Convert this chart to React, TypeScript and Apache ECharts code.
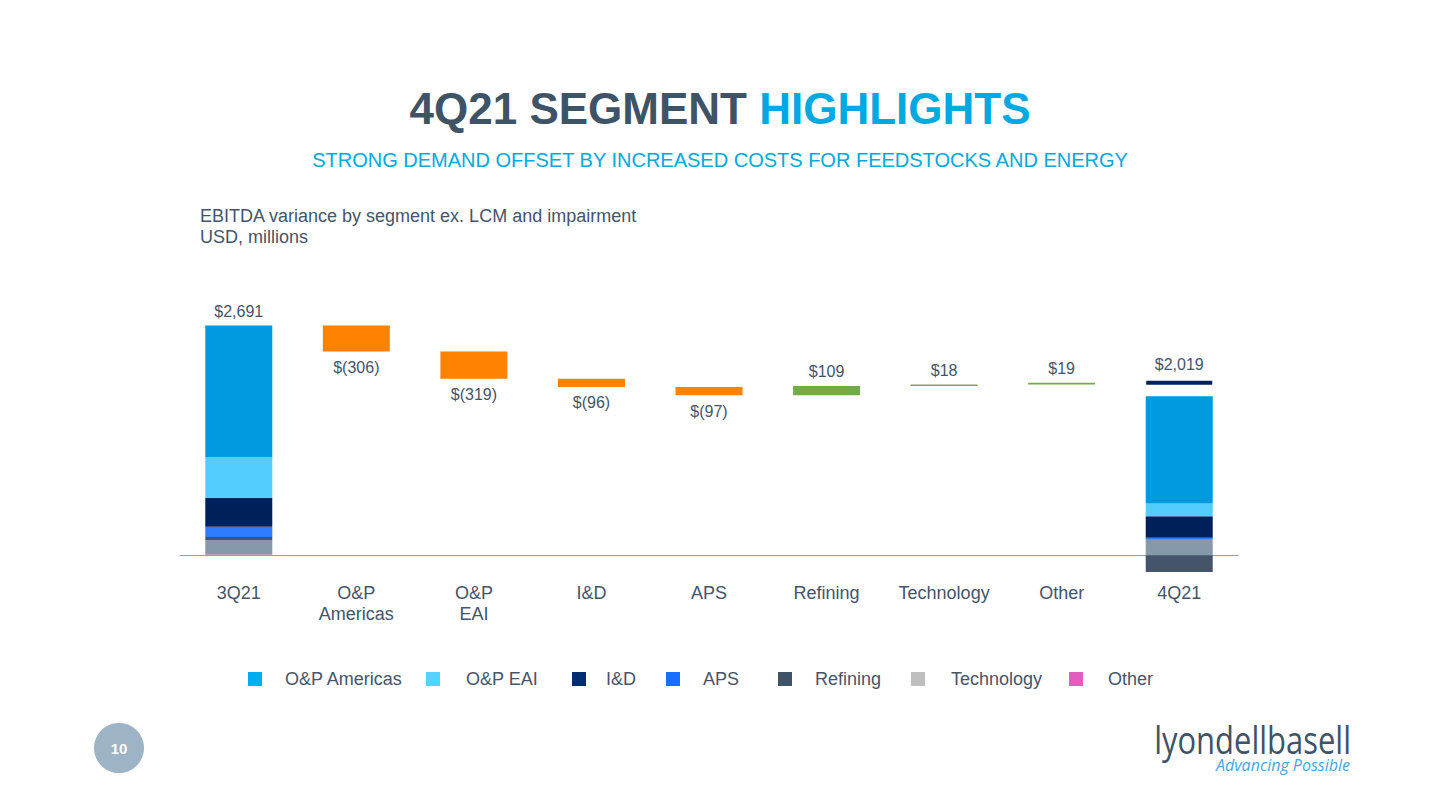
import React, { useEffect, useRef } from "react";
import * as echarts from "echarts";

const categories = ["3Q21", "O&P\nAmericas", "O&P\nEAI", "I&D", "APS", "Refining", "Technology", "Other", "4Q21"];
const segmentNames = ["O&P Americas", "O&P EAI", "I&D", "APS", "Refining", "Technology", "Other"];
const q3Segments = [1543, 475, 340, 120, 35, 170, 8];
const q4Segments = [1255, 150, 250, 23, -195, 183, 0];
const startTotal = 2691;
const endTotal = 2019;
const deltas = [-306, -319, -96, -97, 109, 18, 19];

const barColors = ["#009ADE", "#55CCFF", "#00205B", "#2E7BFF", "#44546A", "#8599AA", "#E15DBE"];
const legendColors = ["#00AEEF", "#55D3FF", "#002D72", "#1A6EFF", "#3E5366", "#BFBFBF", "#E15DBE"];
const legendLeft = [248, 426, 572, 666, 778, 911, 1069];
const legendGap = [23, 26, 20, 23, 23, 26, 25];

const FONT = "'Liberation Sans', Arial, sans-serif";
const TXT = "#44546A";

function fmt(v: number) {
  const s = "$" + Math.abs(v).toLocaleString("en-US");
  return v < 0 ? "$(" + Math.abs(v).toLocaleString("en-US") + ")" : s;
}

export default function App() {
  const ref = useRef<HTMLDivElement>(null);
  useEffect(() => {
    if (!ref.current) return;
    const chart = echarts.init(ref.current, null, { renderer: "svg" });

    const base: any[] = ["-"];
    const delta: any[] = ["-"];
    let run = startTotal;
    deltas.forEach((d) => {
      const next = run + d;
      base.push(Math.min(run, next));
      delta.push({
        value: Math.abs(d),
        itemStyle: { color: d < 0 ? "#FF8200" : "#70AD47" },
        label: { position: d < 0 ? "bottom" : "top", distance: d < 0 ? 8 : 6 },
      });
      run = next;
    });
    base.push("-");
    delta.push("-");

    const n = categories.length;
    const segSeries: any[] = [];
    const order = [6, 5, 4, 3, 2, 1, 0];
    order.forEach((i) => {
      const data: any[] = new Array(n).fill("-");
      data[0] = q3Segments[i];
      data[n - 1] = q4Segments[i] === 0 ? "-" : q4Segments[i];
      if (i === 0) {
        data[0] = {
          value: q3Segments[i],
          label: { show: true, position: "top", distance: 6, formatter: () => fmt(startTotal) },
        };
      }
      segSeries.push({
        name: segmentNames[i],
        type: "bar",
        stack: "all",
        barWidth: 67,
        itemStyle: { color: barColors[i] },
        label: { show: false, color: TXT, fontSize: 16, fontFamily: FONT },
        data,
      });
    });

    const totalMarker: any[] = new Array(n).fill("-");
    totalMarker[n - 1] = endTotal;

    const legends = segmentNames.map((name, i) => ({
      show: true,
      left: legendLeft[i],
      top: 670,
      padding: 0,
      icon: "rect",
      itemWidth: 14,
      itemHeight: 14,
      selectedMode: false,
      data: [{ name, itemStyle: { color: legendColors[i] } }],
      textStyle: {
        color: TXT,
        fontSize: 18,
        fontFamily: FONT,
        padding: [2, 0, 0, legendGap[i] - 5],
      },
    }));

    chart.setOption({
      animation: false,
      backgroundColor: "#ffffff",
      grid: { left: 180, width: 1058, top: 299, height: 299 },
      legend: legends,
      xAxis: {
        type: "category",
        data: categories,
        axisLine: { onZero: true, lineStyle: { color: "#8BA3B8", width: 1 } },
        axisTick: { show: false },
        axisLabel: {
          color: TXT,
          fontSize: 18,
          fontFamily: FONT,
          margin: -16,
          lineHeight: 21,
          interval: 0,
          verticalAlign: "top",
        },
      },
      yAxis: { type: "value", min: -500, max: 3000, show: false, splitLine: { show: false } },
      series: [
        {
          name: "base",
          type: "bar",
          stack: "all",
          barWidth: 67,
          itemStyle: { color: "transparent" },
          data: base,
        },
        {
          name: "delta",
          type: "bar",
          stack: "all",
          barWidth: 67,
          label: {
            show: true,
            color: TXT,
            fontSize: 16,
            fontFamily: FONT,
            formatter: (p: any) => fmt(deltas[p.dataIndex - 1]),
          },
          data: delta,
        },
        ...segSeries,
        {
          name: "total",
          type: "scatter",
          symbol: "rect",
          symbolSize: [66, 4],
          itemStyle: { color: "#00205B", opacity: 1 },
          z: 5,
          label: {
            show: true,
            position: "top",
            distance: 8,
            color: TXT,
            opacity: 1,
            fontSize: 16,
            fontFamily: FONT,
            formatter: () => fmt(endTotal),
          },
          data: totalMarker,
        },
      ],
      graphic: [
        {
          type: "text",
          x: 720,
          y: 108,
          style: {
            text: "{a|4Q21 SEGMENT }{b|HIGHLIGHTS}",
            align: "center",
            verticalAlign: "middle",
            rich: {
              a: { fontSize: 44, fontWeight: "bold", fill: "#3E5366", fontFamily: FONT },
              b: { fontSize: 44, fontWeight: "bold", fill: "#00A9E0", fontFamily: FONT },
            },
          },
        },
        {
          type: "text",
          x: 720,
          y: 160,
          style: {
            text: "STRONG DEMAND OFFSET BY INCREASED COSTS FOR FEEDSTOCKS AND ENERGY",
            align: "center",
            verticalAlign: "middle",
            fontSize: 20,
            fill: "#00A9E0",
            fontFamily: FONT,
          },
        },
        {
          type: "text",
          x: 200,
          y: 205,
          style: {
            text: "EBITDA variance by segment ex. LCM and impairment\nUSD, millions",
            fontSize: 18,
            lineHeight: 21,
            fill: TXT,
            fontFamily: FONT,
          },
        },
        {
          type: "circle",
          shape: { cx: 119, cy: 748, r: 25 },
          style: { fill: "#9DB3C6" },
        },
        {
          type: "text",
          x: 119,
          y: 748,
          style: {
            text: "10",
            align: "center",
            verticalAlign: "middle",
            fontSize: 15,
            fontWeight: "bold",
            fill: "#ffffff",
            fontFamily: FONT,
          },
        },
        {
          type: "text",
          x: 1351,
          y: 739,
          scaleX: 0.815,
          style: {
            text: "lyondellbasell",
            align: "right",
            verticalAlign: "middle",
            fontSize: 38,
            lineHeight: 30,
            fill: "#3E5366",
            fontFamily: "'Open Sans', 'Noto Sans', sans-serif",
          },
        },
        {
          type: "text",
          x: 1350,
          y: 765,
          style: {
            text: "Advancing Possible",
            align: "right",
            verticalAlign: "middle",
            fontSize: 16,
            lineHeight: 16,
            fontStyle: "italic",
            fill: "#3FA9E6",
            fontFamily: "'Open Sans', 'Noto Sans', sans-serif",
          },
        },
      ],
    });
    return () => chart.dispose();
  }, []);
  return (
    <div
      ref={ref}
      style={{ position: "absolute", left: 0, top: 0, width: 1440, height: 810 }}
    />
  );
}
